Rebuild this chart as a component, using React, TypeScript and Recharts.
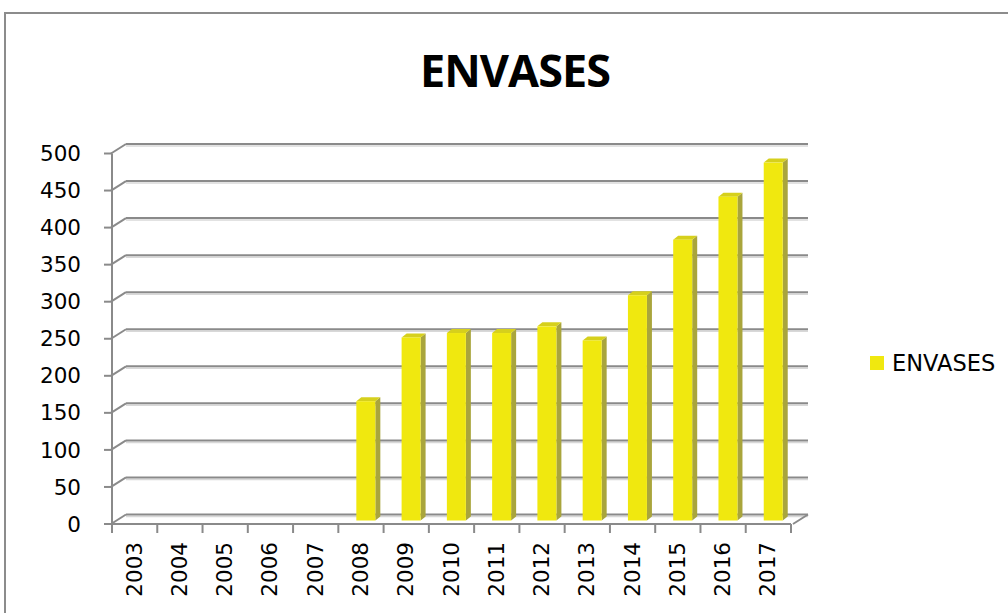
import { BarChart, Bar, XAxis, YAxis, CartesianGrid } from "recharts";

const years = ["2003", "2004", "2005", "2006", "2007", "2008", "2009", "2010", "2011", "2012", "2013", "2014", "2015", "2016", "2017"];
const envases = [0, 0, 0, 0, 0, 161, 247, 253, 253, 262, 243, 304, 379, 437, 483];
const yTicks = [0, 50, 100, 150, 200, 250, 300, 350, 400, 450, 500];

const data = years.map((y, i) => ({ year: y, envases: envases[i] }));

const W = 1008;
const H = 613;
const MARGIN = { top: 153.5, right: 217, bottom: 9, left: 32 };
const XAXIS_H = 80;
const BASE_Y = H - MARGIN.bottom - XAXIS_H;

// fake 3d: back wall offset and bar depth offset
const WALL_DX = 14;
const WALL_DY = -9.5;
const BAR_DX = 5;
const BAR_DY = -4;
const BAR_SHIFT = 5;

const GRID = "#8a8a8a";
const FRONT = "#f0e80f";
const SIDE = "#a9a53c";
const TOP = "#d6d01c";
const FONT = "'DejaVu Sans', Verdana, sans-serif";

function GridLine(props: { x1?: number; x2?: number; y1?: number; index?: number }) {
  const { x1 = 0, x2 = 0, y1 = 0 } = props;
  const bx = x1 + WALL_DX;
  const by = y1 + WALL_DY;
  const isFloor = Math.abs(y1 - BASE_Y) < 1;
  return (
    <g key={`g-${y1}`}>
      <line x1={bx} y1={by + 2} x2={x2 + WALL_DX + 3} y2={by + 2} stroke="#d8d8d8" strokeWidth={1.5} />
      <line x1={x1 - 1} y1={y1} x2={bx} y2={by} stroke={GRID} strokeWidth={2} />
      <line x1={bx} y1={by} x2={x2 + WALL_DX + 3} y2={by} stroke={GRID} strokeWidth={2} />
      {isFloor && <line x1={x2 + 2} y1={y1} x2={x2 + WALL_DX + 3} y2={by} stroke={GRID} strokeWidth={2} />}
    </g>
  );
}

function Bar3D(props: { x?: number; y?: number; width?: number; height?: number }) {
  const { x = 0, y = 0, width = 0, height = 0 } = props;
  if (!height || height <= 0) return null;
  const fx = x + BAR_SHIFT;
  const fy = y - 3.5;
  return (
    <g>
      <polygon
        points={`${fx + width},${fy} ${fx + width + BAR_DX},${fy + BAR_DY} ${fx + width + BAR_DX},${fy + BAR_DY + height} ${fx + width},${fy + height}`}
        fill={SIDE}
      />
      <polygon
        points={`${fx},${fy} ${fx + BAR_DX},${fy + BAR_DY} ${fx + width + BAR_DX},${fy + BAR_DY} ${fx + width},${fy}`}
        fill={TOP}
      />
      <rect x={fx} y={fy} width={width} height={height} fill={FRONT} />
    </g>
  );
}

function YearTick(props: { x?: number; y?: number; index?: number; payload?: { value: string } }) {
  const { x = 0, y = 0, index = 0, payload } = props;
  const band = (W - MARGIN.left - 80 - MARGIN.right) / years.length;
  const left = x - band / 2;
  return (
    <g>
      <line x1={left} y1={y - 8} x2={left} y2={y + 1} stroke={GRID} strokeWidth={2} />
      {index === years.length - 1 && (
        <line x1={left + band} y1={y - 8} x2={left + band} y2={y + 1} stroke={GRID} strokeWidth={2} />
      )}
      <text
        transform={`translate(${x + 7},${y + 10}) rotate(-90)`}
        textAnchor="end"
        style={{ fontFamily: FONT, fontSize: 21.5, fill: "#000" }}
      >
        {payload?.value}
      </text>
    </g>
  );
}

export default function App() {
  return (
    <div style={{ position: "fixed", left: 0, top: 0, width: W, height: H, overflow: "hidden", background: "#fff" }}>
      <div
        style={{
          position: "absolute", left: 4, top: 12, width: W + 20, height: H + 20,
          borderLeft: "2px solid #8c8c8c", borderTop: "2px solid #8c8c8c",
        }}
      />
      <div
        style={{
          position: "absolute", left: 0, width: 1030, top: 47, textAlign: "center",
          fontFamily: "'Open Sans', sans-serif", fontWeight: 700, fontSize: 45, lineHeight: "45px",
          letterSpacing: -1, color: "#000",
        }}
      >
        ENVASES
      </div>
      <div style={{ position: "absolute", left: 0, top: 0 }}>
        <BarChart width={W} height={H} data={data} margin={MARGIN} barSize={19}>
          <CartesianGrid vertical={false} horizontal={(p: any) => <GridLine key={p.key} {...p} />} />
          <XAxis
            dataKey="year"
            height={XAXIS_H}
            interval={0}
            axisLine={{ stroke: GRID, strokeWidth: 2 }}
            tickLine={false}
            tick={YearTick as never}
          />
          <YAxis
            width={80}
            domain={[0, 500]}
            ticks={yTicks}
            interval={0}
            axisLine={{ stroke: GRID, strokeWidth: 2 }}
            tickLine={{ stroke: GRID, strokeWidth: 2 }}
            tickSize={8}
            tickMargin={23}
            tick={{ fontFamily: FONT, fontSize: 21.5, fill: "#000" }}
          />
          <Bar dataKey="envases" isAnimationActive={false} shape={Bar3D as never} />
        </BarChart>
      </div>
      <div style={{ position: "absolute", left: 870, top: 351, display: "flex", alignItems: "center" }}>
        <span style={{ display: "inline-block", width: 14, height: 14, background: FRONT, marginRight: 8 }} />
        <span style={{ fontFamily: FONT, fontSize: 22.5, color: "#000", lineHeight: "24px" }}>ENVASES</span>
      </div>
    </div>
  );
}
